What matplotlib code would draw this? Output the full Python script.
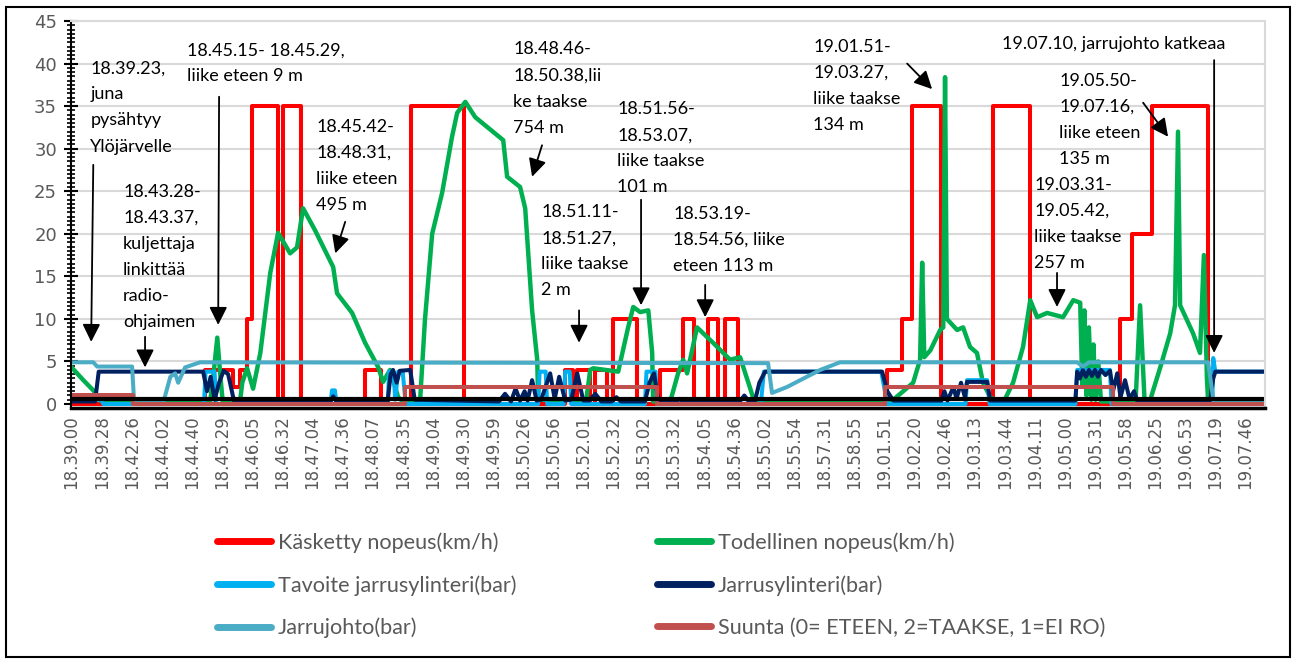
import matplotlib.pyplot as plt
from matplotlib.patches import Rectangle

# x positions are in category-label units (0 = first time label)
time_labels = ['18.39.00', '18.39.28', '18.42.26', '18.44.02', '18.44.40', '18.45.29',
               '18.46.05', '18.46.32', '18.47.04', '18.47.36', '18.48.07', '18.48.35',
               '18.49.04', '18.49.30', '18.49.59', '18.50.26', '18.50.56', '18.52.01',
               '18.52.32', '18.53.02', '18.53.32', '18.54.05', '18.54.36', '18.55.02',
               '18.55.54', '18.57.31', '18.58.55', '19.01.51', '19.02.20', '19.02.46',
               '19.03.13', '19.03.44', '19.04.11', '19.05.00', '19.05.31', '19.05.58',
               '19.06.25', '19.06.53', '19.07.19', '19.07.46']

# Käsketty nopeus (step)
cmd_x = [0, 4.44, 5.37, 5.6, 5.83, 6.0, 6.86, 7.03, 7.63, 9.75, 10.28, 11.28, 13.04,
         16.40, 16.66, 16.80, 17.23, 17.40, 17.79, 17.99, 18.79, 19.56, 20.32, 20.68,
         21.15, 21.48, 21.71, 22.15, 27.10, 27.59, 27.93, 28.89, 30.62, 31.85,
         34.84, 35.24, 35.90, 37.76, 39.65]
cmd_y = [0, 4, 2, 4, 10, 35, 0, 35, 0, 4, 0, 35, 0,
         4, 0, 4, 0, 4, 0, 10, 0, 4, 10, 0,
         10, 0, 10, 0, 4, 10, 35, 0, 35, 0,
         10, 20, 35, 0, 0]

# Todellinen nopeus
act_x = [0, 0.39, 0.72, 0.95, 1.2, 4.6, 4.7, 4.84, 4.95, 5.02, 5.6, 5.67, 5.83, 6.03,
         6.27, 6.60, 6.86, 7.26, 7.49, 7.69, 8.09, 8.69, 8.82, 9.32, 9.75, 10.19, 10.35,
         10.58, 10.85, 11.0, 11.58, 11.74, 11.98, 12.31, 12.64, 12.81, 13.08, 13.41,
         14.34, 14.47, 14.90, 15.07, 15.30, 15.47, 15.50, 17.1, 17.23, 17.33, 18.16,
         18.49, 18.66, 18.89, 19.16, 19.29, 19.32, 19.89, 20.15, 20.32, 20.45, 20.78,
         21.31, 21.88, 22.21, 22.64, 22.8, 27.2, 27.30, 27.96, 28.19, 28.26, 28.33,
         28.53, 28.86, 28.96, 29.02, 29.08, 29.42, 29.62, 29.85, 30.08, 30.28, 30.52,
         30.75, 31.0, 31.28, 31.61, 31.85, 32.08, 32.41, 32.94, 33.28, 33.51, 33.58,
         33.65, 33.72, 33.80, 33.88, 33.95, 34.02, 34.11, 34.2, 35.35, 35.5, 35.65,
         35.83, 36.17, 36.50, 36.66, 36.76, 36.83, 37.26, 37.49, 37.62, 37.72, 37.76,
         39.65]
act_y = [4.3, 2.8, 1.6, 0.4, 0.2, 0.2, 3, 7.8, 3, 0.3, 0.4, 2.5, 4.2, 1.8,
         6, 15.4, 20.1, 17.7, 18.4, 23, 20.4, 16.1, 13, 10.7, 7.2, 4.3, 2.6,
         4, 0.8, 0.3, 0.5, 9.9, 20, 24.8, 31.4, 34.2, 35.5, 33.7,
         31, 26.7, 25.5, 23, 11, 5.2, 0.5, 0.5, 4, 4.2, 3.8,
         9, 11.4, 10.8, 11, 6, 0.3, 0.3, 3.6, 5.2, 3.6, 9,
         7.2, 5.2, 5.5, 0.8, 0.2, 0.2, 0.5, 2.5, 5.2, 16.6, 5.5,
         6.3, 8.7, 9, 38.4, 10, 8.7, 9, 6.7, 6, 2.5, 0.8,
         0.3, 0.5, 2.5, 6.7, 12.2, 10.2, 10.7, 10.2, 12.2, 11.9, 2,
         11, 1, 9, 0.5, 7, 0.5, 5, 0.3, 0.3, 11.6, 0.3,
         0.4, 4.3, 8.3, 11.6, 32, 11.6, 8.3, 6, 17.5, 3, 0.3,
         0.3]

# Tavoite jarrusylinteri
tgt_x = [0, 1.0, 1.05, 4.4, 4.45, 4.75, 4.8, 8.6, 8.65, 8.75, 8.8, 10.5, 10.55, 10.7,
         10.75, 10.85, 11.0, 11.1, 15.5, 15.55, 15.75, 15.8, 16.35, 16.4, 16.55, 16.6,
         19.05, 19.1, 19.4, 19.45, 22.9, 23.0, 26.9, 27.1, 29.7, 29.75, 30.42, 30.5,
         33.35, 33.41, 34.5, 34.55, 37.9, 37.93, 38.0, 39.65]
tgt_y = [0.5, 0.5, 0, 0, 3.8, 3.8, 0, 0, 1.6, 1.6, 0, 0, 3.8, 3.8,
         0.5, 3.8, 3.8, 0, 0, 3.8, 3.8, 0, 0, 3.8, 3.8, 0,
         0, 3.8, 3.8, 0, 0, 3.8, 3.8, 0, 0, 2.8, 2.8, 0,
         0, 4.0, 4.0, 0, 0, 5.4, 3.8, 3.8]

# Jarrusylinteri
cyl_x = [0, 0.78, 0.9, 4.37, 4.5, 4.62, 4.75, 4.9, 5.05, 5.2, 5.4, 8.6, 8.69, 8.8,
         10.5, 10.6, 10.68, 10.8, 10.9, 11.25, 11.4, 14.2, 14.4, 14.6, 14.75, 14.9,
         15.05, 15.15, 15.3, 15.45, 15.6, 15.9, 16.05, 16.2, 16.4, 16.6, 16.8, 17.0,
         17.2, 17.4, 17.6, 17.95, 18.1, 18.25, 19.05, 19.2, 19.35, 19.5, 20.1, 20.2,
         20.3, 22.2, 22.35, 22.5, 22.7, 22.85, 23.04, 26.93, 27.1, 27.3, 28.9, 29.0,
         29.1, 29.3, 29.4, 29.55, 29.68, 29.75, 30.42, 30.52, 33.35, 33.41, 33.5, 33.6,
         33.7, 33.8, 33.9, 34.0, 34.1, 34.2, 34.35, 34.5, 34.6, 34.74, 34.85, 35.0,
         35.15, 35.3, 35.4, 37.83, 37.93, 38.0, 39.65]
cyl_y = [0.3, 0.3, 3.8, 3.8, 1.5, 3.2, 0.5, 2.5, 3.9, 3.5, 0.3, 0.3, 0.9, 0.3,
         0.3, 3.5, 4, 2.5, 3.9, 4, 0.5, 0.3, 1.2, 0.3, 1.8, 0.4,
         1.5, 0.4, 2.8, 0.4, 0.5, 3.6, 0.6, 3.2, 0.4, 0.5, 3.6, 0.4,
         0.4, 1.2, 0.3, 0.3, 0.8, 0.3, 0.3, 2.5, 3.6, 0.3, 0.3, 0.6,
         0.3, 0.3, 1.0, 0.3, 0.3, 2.5, 3.8, 3.8, 1.5, 0.4, 0.4, 1.5,
         0.4, 2.0, 0.6, 2.5, 0.8, 2.6, 2.6, 0.4, 0.4, 3.8, 3.0, 4.0,
         3.2, 4.0, 3.3, 4.0, 3.2, 4.0, 3.4, 3.9, 1.5, 3.6, 0.8, 2.8,
         0.6, 1.5, 0.4, 0.4, 3.0, 3.8, 3.8]

# Jarrujohto
pipe_x = [0, 0.72, 0.85, 2.01, 2.08, 3.04, 3.28, 3.44, 3.54, 3.77, 4.27, 23.14, 23.27,
          23.77, 24.87, 25.53, 33.41, 33.61, 33.8, 37.76, 37.95, 39.65]
pipe_y = [4.9, 4.9, 4.4, 4.4, 0.1, 0.1, 3.2, 3.6, 2.5, 4.3, 4.9, 4.8, 1.3,
          2.0, 4.0, 4.9, 4.9, 4.4, 4.9, 4.9, 0.1, 0.1]

# Suunta (step)
dir_x = [0, 2.05, 11.08, 19.46, 27.03, 34.60, 39.65]
dir_y = [1, 0, 2, 0, 2, 0, 0]

base_x = [0, 39.65]
base_y = [0.6, 0.6]

notes = [
    ('18.39.23,\njuna\npysähtyy\nYlöjärvelle', 0.62, 40.4, (0.72, 28.1), (0.65, 7.3)),
    ('18.43.28-\n18.43.37,\nkuljettaja\nlinkittää\nradio-\nohjaimen', 1.71, 25.9, (2.44, 7.9), (2.44, 4.3)),
    ('18.45.15- 18.45.29,\nliike eteen 9 m', 3.85, 42.5, (4.9, 36.1), (4.87, 9.3)),
    ('18.45.42-\n18.48.31,\nliike eteen\n495 m', 8.13, 33.5, (9.09, 21.4), (8.76, 17.7)),
    ('18.48.46-\n18.50.38,lii\nke taakse\n754 m', 14.67, 42.6, (15.63, 30.4), (15.30, 26.7)),
    ('18.51.56-\n18.53.07,\nliike taakse\n101 m', 18.13, 35.6, (18.92, 24.0), (18.92, 11.6)),
    ('18.51.11-\n18.51.27,\nliike taakse\n2 m', 15.6, 23.5, (16.86, 11.0), (16.86, 7.2)),
    ('18.53.19-\n18.54.56, liike\neteen 113 m', 19.99, 23.3, (21.05, 14.0), (21.05, 10.2)),
    ('19.01.51-\n19.03.27,\nliike taakse\n134 m', 24.64, 42.9, (27.76, 40.0), (28.59, 37.0)),
    ('19.07.10, jarrujohto katkeaa', 30.92, 43.2, (37.96, 40.4), (37.96, 6.0)),
    ('19.05.50-\n19.07.16,\nliike eteen\n135 m', 32.81, 38.9, (35.6, 35.4), (36.43, 31.4)),
    ('19.03.31-\n19.05.42,\nliike taakse\n257 m', 31.98, 26.7, (32.74, 15.4), (32.74, 11.4)),
]

W, H = 1293, 661
fig = plt.figure(figsize=(W / 100, H / 100), dpi=100)
ax = fig.add_axes([71 / W, 1 - 408 / H, (1265 - 71) / W, (408 - 21) / H])

lw = 2.9
l_cmd, = ax.plot(cmd_x, cmd_y, color='#FF0000', lw=lw, drawstyle='steps-post',
                 label='Käsketty nopeus(km/h)')
l_act, = ax.plot(act_x, act_y, color='#00B050', lw=lw + 0.3, label='Todellinen nopeus(km/h)')
l_tgt, = ax.plot(tgt_x, tgt_y, color='#00B0F0', lw=lw, label='Tavoite jarrusylinteri(bar)')
l_cyl, = ax.plot(cyl_x, cyl_y, color='#002060', lw=lw, label='Jarrusylinteri(bar)')
l_pipe, = ax.plot(pipe_x, pipe_y, color='#4BACC6', lw=lw, label='Jarrujohto(bar)')
l_dir, = ax.plot(dir_x, dir_y, color='#C0504D', lw=lw, drawstyle='steps-post',
                 label='Suunta (0= ETEEN, 2=TAAKSE, 1=EI RO)')
ax.plot(base_x, base_y, color='black', lw=3)

ax.set_xlim(-0.02, 39.65)
ax.set_ylim(-0.47, 45)
ax.set_yticks(range(0, 46, 5))
ax.set_yticks([i * 0.5 for i in range(91)], minor=True)
ax.set_xticks(range(len(time_labels)))
ax.set_xticklabels(time_labels, rotation=90)
ax.tick_params(axis='y', which='major', direction='inout', length=10, width=1.5,
               labelsize=13, labelcolor='#595959', pad=5)
ax.tick_params(axis='y', which='minor', direction='inout', length=6, width=1.2)
ax.tick_params(axis='x', length=0, labelsize=12, labelcolor='#595959', pad=5)
ax.grid(axis='y', color='#D9D9D9', lw=1.5)
ax.set_axisbelow(True)
for s in ['top', 'right']:
    ax.spines[s].set_color('#D9D9D9')
    ax.spines[s].set_linewidth(1.5)
ax.spines['left'].set_linewidth(1.5)
ax.spines['bottom'].set_linewidth(2.5)

for txt, tx, ty, tail, head in notes:
    ax.text(tx, ty, txt, ha='left', va='top', fontsize=13, family='Lato',
            linespacing=1.78, color='black')
    ax.annotate('', xy=head, xytext=tail,
                arrowprops=dict(arrowstyle='-|>', mutation_scale=27, lw=1.3,
                                color='black', shrinkA=0, shrinkB=0))

leg_kw = dict(loc='upper left', frameon=False, handlelength=2.5,
              handletextpad=0.3, labelspacing=1.03, borderpad=0, borderaxespad=0,
              labelcolor='#595959', prop={'family': 'Lato', 'size': 15.6})
leg1 = fig.legend(handles=[l_cmd, l_tgt, l_pipe], bbox_to_anchor=(217 / W, 1 - 532 / H), **leg_kw)
leg2 = fig.legend(handles=[l_act, l_cyl, l_dir], bbox_to_anchor=(657 / W, 1 - 532 / H), **leg_kw)
for lg in (leg1, leg2):
    for ln in lg.get_lines():
        ln.set_linewidth(5)
        ln.set_solid_capstyle('round')

fig.add_artist(Rectangle((6 / W, 4 / H), (1290 - 6) / W, (657 - 7) / H,
                         transform=fig.transFigure, fill=False, lw=1.5, ec='black'))

fig.savefig('out.png', dpi=100)
